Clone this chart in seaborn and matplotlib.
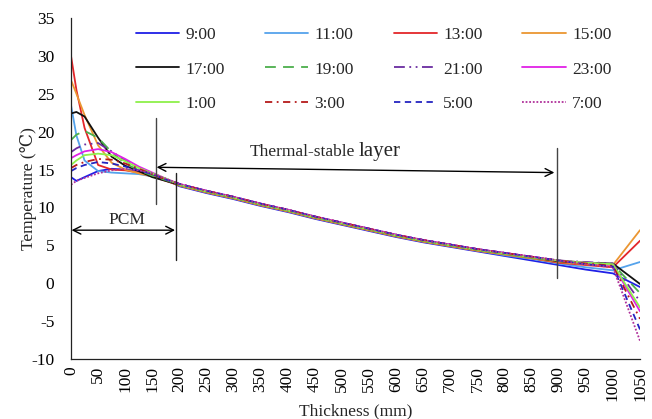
import matplotlib
matplotlib.use("Agg")
import matplotlib.pyplot as plt
import seaborn as sns
import pandas as pd

thickness = [0, 10, 25, 50, 75, 100, 125, 150, 175, 200, 250, 300, 350, 400, 450,
             500, 550, 600, 650, 700, 750, 800, 850, 900, 950, 1000, 1050]

t_0900 = [14.0, 13.5, 14.0, 14.8, 15.1, 15.0, 14.8, 14.3, 13.7, 12.8, 11.9, 11.1, 10.2, 9.4,
          8.5, 7.7, 6.9, 6.1, 5.4, 4.8, 4.2, 3.6, 3.0, 2.4, 1.8, 1.3, -0.5]
t_1100 = [23.5, 19.5, 16.2, 14.8, 14.6, 14.5, 14.4, 14.1, 13.6, 12.9, 12.0, 11.2, 10.3, 9.5,
          8.6, 7.8, 7.0, 6.2, 5.5, 4.9, 4.3, 3.7, 3.2, 2.6, 2.1, 1.7, 2.8]
t_1300 = [30.0, 25.5, 20.5, 15.6, 15.0, 14.9, 14.6, 14.1, 13.5, 12.9, 12.0, 11.2, 10.3, 9.5,
          8.6, 7.8, 7.0, 6.2, 5.5, 4.9, 4.3, 3.8, 3.3, 2.7, 2.4, 2.1, 5.6]
t_1500 = [26.8, 25.0, 22.2, 18.2, 15.9, 15.0, 14.5, 14.1, 13.6, 12.9, 12.0, 11.2, 10.3, 9.5,
          8.6, 7.8, 7.0, 6.2, 5.5, 4.9, 4.3, 3.8, 3.3, 2.8, 2.5, 2.4, 7.0]
t_1700 = [22.4, 22.6, 22.0, 19.2, 16.7, 15.5, 14.8, 14.0, 13.5, 13.0, 12.1, 11.3, 10.4, 9.6,
          8.7, 7.9, 7.1, 6.3, 5.6, 5.0, 4.4, 3.9, 3.4, 2.9, 2.7, 2.6, -0.1]
t_1900 = [18.9, 19.6, 20.1, 19.2, 17.3, 15.8, 14.9, 14.2, 13.6, 13.0, 12.1, 11.3, 10.4, 9.6,
          8.7, 7.9, 7.1, 6.3, 5.6, 5.0, 4.4, 3.9, 3.4, 3.0, 2.7, 2.5, -1.3]
t_2100 = [17.3, 17.8, 18.3, 18.5, 17.4, 16.2, 15.2, 14.4, 13.7, 13.1, 12.2, 11.4, 10.5, 9.7,
          8.8, 8.0, 7.2, 6.4, 5.7, 5.1, 4.5, 4.0, 3.5, 3.0, 2.8, 2.6, -2.4]
t_2300 = [16.5, 16.9, 17.4, 17.7, 17.3, 16.4, 15.4, 14.6, 13.8, 13.1, 12.2, 11.4, 10.5, 9.7,
          8.8, 8.0, 7.2, 6.4, 5.7, 5.1, 4.5, 4.0, 3.5, 3.0, 2.7, 2.4, -3.7]
t_0100 = [15.6, 16.2, 16.9, 17.1, 16.9, 16.1, 15.2, 14.5, 13.8, 13.0, 12.1, 11.3, 10.4, 9.6,
          8.7, 7.9, 7.1, 6.3, 5.6, 5.0, 4.4, 3.9, 3.4, 3.0, 2.7, 2.5, -3.2]
t_0300 = [15.2, 15.6, 16.0, 16.4, 16.3, 15.8, 15.1, 14.4, 13.7, 13.1, 12.2, 11.4, 10.5, 9.7,
          8.8, 8.0, 7.2, 6.4, 5.7, 5.1, 4.5, 4.0, 3.5, 3.0, 2.6, 2.3, -4.7]
t_0500 = [14.8, 15.2, 15.6, 16.0, 15.8, 15.4, 14.9, 14.4, 13.7, 13.1, 12.2, 11.4, 10.5, 9.7,
          8.8, 8.0, 7.2, 6.4, 5.7, 5.1, 4.5, 4.0, 3.5, 3.0, 2.5, 2.2, -6.1]
t_0700 = [13.0, 13.5, 13.9, 14.5, 14.9, 15.1, 14.9, 14.5, 13.8, 13.1, 12.2, 11.4, 10.5, 9.7,
          8.8, 8.0, 7.2, 6.4, 5.7, 5.1, 4.5, 4.0, 3.5, 3.0, 2.5, 2.1, -7.6]

series_labels = ["9:00", "11:00", "13:00", "15:00", "17:00", "19:00",
                 "21:00", "23:00", "1:00", "3:00", "5:00", "7:00"]
series_values = [t_0900, t_1100, t_1300, t_1500, t_1700, t_1900,
                 t_2100, t_2300, t_0100, t_0300, t_0500, t_0700]
series_colors = ["#1f1fe6", "#55a3ec", "#e3262a", "#eb9632", "#111111", "#4caf4c",
                 "#6a2ca0", "#e021e6", "#8ef04a", "#b51a1a", "#2424c0", "#b0309a"]
series_styles = ["-", "-", "-", "-", "-", (0, (6, 4)),
                 (0, (6, 2.5, 1, 2.5, 1, 2.5)), "-", "-", (0, (4, 2.5, 1, 2.5)),
                 (0, (3.5, 2.5)), (0, (1, 1))]

x_ticks = list(range(0, 1051, 50))
y_ticks = list(range(-10, 36, 5))

sns.set_theme(style="white")
plt.rcParams["font.family"] = ["Liberation Serif", "DejaVu Serif", "DejaVu Sans"]
plt.rcParams["font.size"] = 12.5

fig = plt.figure(figsize=(6.52, 4.19), dpi=100)
ax = fig.add_axes([71 / 652, 1 - 359 / 419, 569 / 652, 341 / 419])

handles = []
for lab, vals, col, ls in zip(series_labels, series_values, series_colors, series_styles):
    df = pd.DataFrame({"Thickness": thickness, "Temp": vals})
    n_before = len(ax.lines)
    sns.lineplot(data=df, x="Thickness", y="Temp", ax=ax, color=col, linewidth=1.3,
                 label=lab, sort=False, estimator=None)
    line = ax.lines[n_before]
    line.set_linestyle(ls)
    handles.append(line)

leg = ax.get_legend()
if leg is not None:
    leg.remove()

order = [0, 4, 8, 1, 5, 9, 2, 6, 10, 3, 7, 11]
fig.legend([handles[i] for i in order], [series_labels[i] for i in order],
           ncol=4, frameon=False, loc="upper left",
           bbox_to_anchor=(136 / 652, 1 - 27 / 419), bbox_transform=fig.transFigure,
           borderpad=0, borderaxespad=0, handlelength=2.5, handletextpad=0.35,
           columnspacing=2.3, labelspacing=1.05, fontsize=12.5)

ax.set_xlim(0, 1050)
ax.set_ylim(-10, 35)
ax.set_xticks(x_ticks)
ax.set_xticklabels([str(v) for v in x_ticks], rotation=90)
ax.set_yticks(y_ticks)
ax.set_yticklabels([str(v) for v in y_ticks])
ax.tick_params(axis="both", direction="in", length=4, width=0.9, colors="#222222",
               labelsize=12.5, labelcolor="black", pad=5)
ax.tick_params(axis="y", pad=12)
for s in ["top", "right"]:
    ax.spines[s].set_visible(False)
for s in ["left", "bottom"]:
    ax.spines[s].set_color("#222222")
    ax.spines[s].set_linewidth(0.9)

ax.set_xlabel("Thickness (mm)", fontsize=12.5, labelpad=2)
ax.set_ylabel("Temperature (\u2103)", fontsize=12.5, labelpad=-4)

# annotations
ax.plot([156, 156], [10.4, 21.8], color="#444444", lw=1)
ax.plot([194, 194], [3.0, 14.5], color="#222222", lw=1)
ax.plot([897, 897], [0.7, 17.8], color="#444444", lw=1)
ax.annotate("", xy=(158, 15.3), xytext=(892, 14.6),
            arrowprops=dict(arrowstyle="<->", lw=1, color="black",
                            shrinkA=0, shrinkB=0, mutation_scale=14))
ax.annotate("", xy=(1, 7.0), xytext=(192, 7.0),
            arrowprops=dict(arrowstyle="<->", lw=1, color="black",
                            shrinkA=0, shrinkB=0, mutation_scale=14))
ax.text(524, 16.8, "Thermal-stable", ha="right", va="baseline", fontsize=12.5)
ax.text(530, 16.8, "layer", ha="left", va="baseline", fontsize=15)
ax.text(103, 8.3, "PCM", ha="center", va="center", fontsize=12.5)

fig.savefig("out.png", dpi=100)
